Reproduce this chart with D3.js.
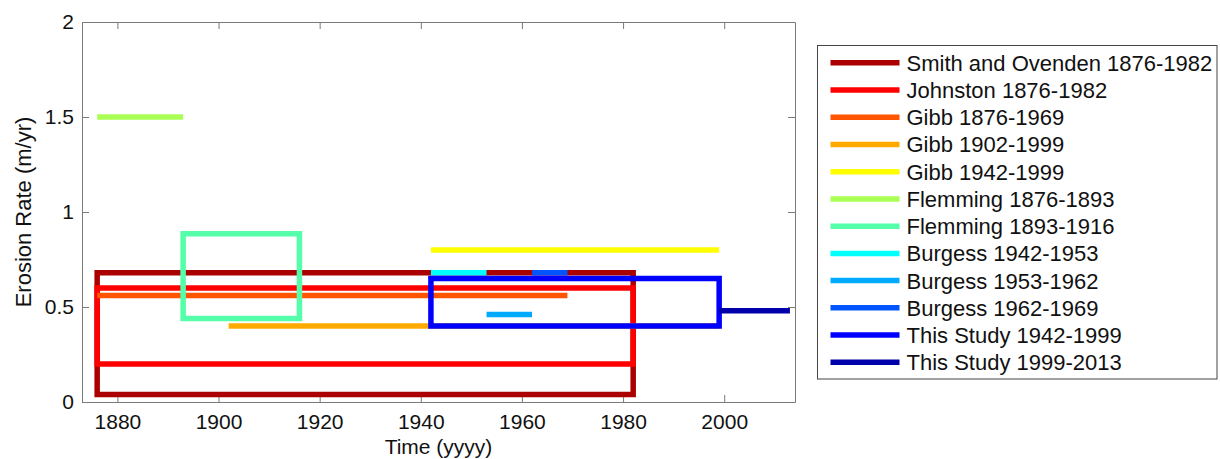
<!DOCTYPE html>
<html>
<head>
<meta charset="utf-8">
<script src="https://cdnjs.cloudflare.com/ajax/libs/d3/7.8.5/d3.min.js"></script>
<style>
  body { margin: 0; background: #fff; }
  svg text { font-family: "Liberation Sans", Arial, sans-serif; }
</style>
</head>
<body>
<div id="chart"></div>
<script>
(function autoexecute() {
  // data
  const seriesNames = [
    "Smith and Ovenden 1876-1982", "Johnston 1876-1982", "Gibb 1876-1969",
    "Gibb 1902-1999", "Gibb 1942-1999", "Flemming 1876-1893", "Flemming 1893-1916",
    "Burgess 1942-1953", "Burgess 1953-1962", "Burgess 1962-1969",
    "This Study 1942-1999", "This Study 1999-2013"
  ];
  const startYears = [1876, 1876, 1876, 1902, 1942, 1876, 1893, 1942, 1953, 1962, 1942, 1999];
  const endYears   = [1982, 1982, 1969, 1999, 1999, 1893, 1916, 1953, 1962, 1969, 1999, 2013];
  const rateLow    = [0.04, 0.20, 0.56, 0.40, 0.80, 1.50, 0.44, 0.68, 0.46, 0.68, 0.40, 0.48];
  const rateHigh   = [0.68, 0.60, 0.56, 0.40, 0.80, 1.50, 0.885, 0.68, 0.46, 0.68, 0.65, 0.48];
  const xTicks = [1880, 1900, 1920, 1940, 1960, 1980, 2000];
  const yTicks = [0, 0.5, 1, 1.5, 2];

  // jet colormap, reversed
  const colors = ["#aa0000", "#ff0000", "#ff5500", "#ffaa00", "#ffff00", "#aaff55",
                  "#55ffaa", "#00ffff", "#00aaff", "#0055ff", "#0000ff", "#0000aa"];

  var margin = { top: 22, left: 82 },
      width = 713,
      height = 380;

  var svg = d3.select("#chart").append("svg")
      .attr("width", 1220)
      .attr("height", 459);

  var g = svg.append("g")
      .attr("transform", "translate(" + margin.left + "," + margin.top + ")");

  const xScale = d3.scaleLinear().domain([1873, 2014]).range([0, width]);
  const yScale = d3.scaleLinear().domain([0, 2]).range([height, 0]);

  // axes (ticks pointing inwards, box on all sides)
  function styleAxis(sel) {
    sel.select(".domain").attr("stroke", "#7a7a7a");
    sel.selectAll(".tick line").attr("stroke", "#7a7a7a");
    sel.selectAll("text").attr("fill", "#111").attr("font-size", "21px")
      .attr("font-family", "Liberation Sans, Arial, sans-serif");
  }

  g.append("g")
      .attr("transform", `translate(0, ${height})`)
      .call(d3.axisBottom(xScale).tickValues(xTicks).tickSizeInner(-7).tickSizeOuter(0)
        .tickPadding(12).tickFormat(d3.format("d")))
      .call(styleAxis);
  g.append("g")
      .call(d3.axisTop(xScale).tickValues(xTicks).tickSizeInner(-7).tickSizeOuter(0)
        .tickFormat(""))
      .call(styleAxis);
  g.append("g")
      .call(d3.axisLeft(yScale).tickValues(yTicks).tickSizeInner(-7).tickSizeOuter(0)
        .tickPadding(8).tickFormat(d => String(d)))
      .call(styleAxis);
  g.append("g")
      .attr("transform", `translate(${width}, 0)`)
      .call(d3.axisRight(yScale).tickValues(yTicks).tickSizeInner(-7).tickSizeOuter(0)
        .tickFormat(""))
      .call(styleAxis);

  // axis titles
  svg.append("text")
      .attr("x", margin.left + width / 2)
      .attr("y", 453.5)
      .attr("text-anchor", "middle")
      .attr("font-size", "21px")
      .attr("fill", "#111")
      .text("Time (yyyy)");
  svg.append("text")
      .attr("transform", `translate(31, ${margin.top + height / 2}) rotate(-90)`)
      .attr("text-anchor", "middle")
      .attr("font-size", "22px")
      .attr("fill", "#111")
      .text("Erosion Rate (m/yr)");

  // series: a box when the rate is a range, a flat line otherwise
  const series = seriesNames.map((name, i) => ({
    name: name, color: colors[i],
    x0: startYears[i], x1: endYears[i], lo: rateLow[i], hi: rateHigh[i]
  }));

  const plotGroup = g.append("g").attr("class", "series");
  series.forEach(s => {
    let pts, line;
    if (s.lo !== s.hi) {
      pts = [[s.x0, s.lo], [s.x0, s.hi], [s.x1, s.hi], [s.x1, s.lo]];
      line = d3.line().x(d => xScale(d[0])).y(d => yScale(d[1])).curve(d3.curveLinearClosed);
    } else {
      pts = [[s.x0, s.lo], [s.x1, s.lo]];
      line = d3.line().x(d => xScale(d[0])).y(d => yScale(d[1]));
    }
    plotGroup.append("path")
        .attr("d", line(pts))
        .attr("fill", "none")
        .attr("stroke", s.color)
        .attr("stroke-width", 5.5)
        .attr("stroke-linejoin", "miter");
  });

  /****** Legend ******/
  const legend = svg.append("g").attr("transform", "translate(817.5, 45.5)");
  legend.append("rect")
      .attr("width", 399.5)
      .attr("height", 333.5)
      .attr("fill", "#fff")
      .attr("stroke", "#444")
      .attr("stroke-width", 1);

  const rows = legend.selectAll("g.row")
      .data(series)
      .join("g")
      .attr("class", "row")
      .attr("transform", (d, i) => `translate(0, ${17.2 + i * 27.24})`);
  rows.append("line")
      .attr("x1", 13).attr("x2", 82)
      .attr("stroke", d => d.color)
      .attr("stroke-width", 5.5);
  rows.append("text")
      .attr("x", 89)
      .attr("dy", "0.36em")
      .attr("font-size", "22px")
      .attr("fill", "#111")
      .text(d => d.name);
})();
</script>
</body>
</html>
